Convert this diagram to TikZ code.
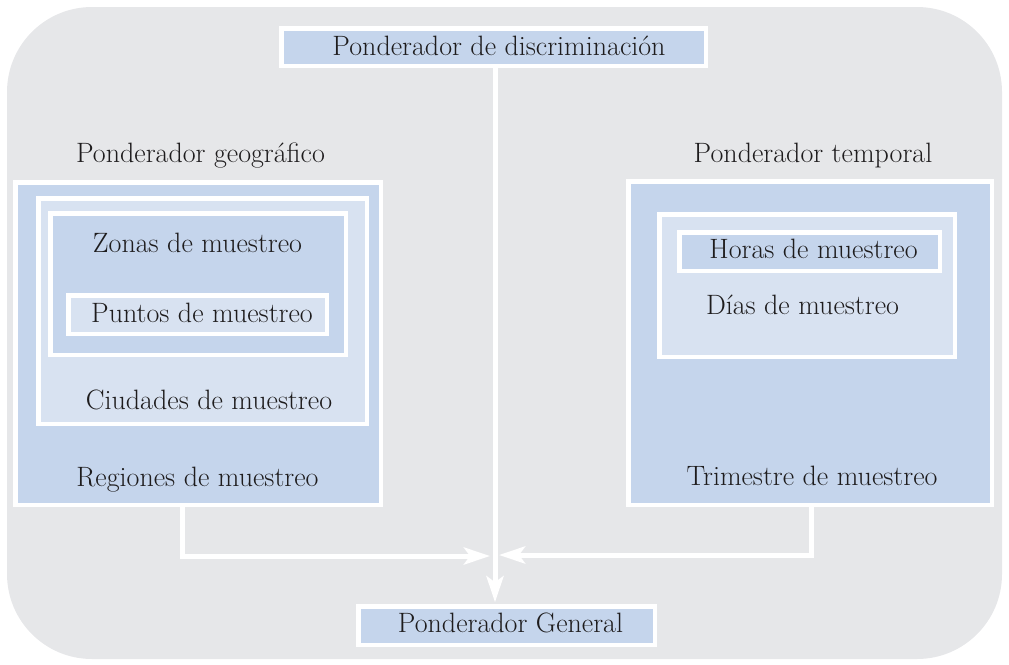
\documentclass[tikz,border=0pt]{standalone}
\usetikzlibrary{arrows.meta}
\definecolor{bggray}{RGB}{230,231,233}
\definecolor{bluedark}{RGB}{197,213,236}
\definecolor{bluelight}{RGB}{216,226,241}
\definecolor{txtcol}{RGB}{30,28,29}
\tikzset{
  boxdark/.style={draw=white, line width=4.5pt, fill=bluedark, inner sep=0pt, outer sep=0pt, anchor=center},
  boxlight/.style={draw=white, line width=4.5pt, fill=bluelight, inner sep=0pt, outer sep=0pt, anchor=center},
  lbl/.style={text=txtcol, inner sep=0pt, anchor=base, font=\fontsize{28}{33}\selectfont},
  arr/.style={draw=white, line width=5pt, -{Stealth[length=26pt,width=17pt,inset=6pt]}}
}
\begin{document}
\begin{tikzpicture}[x=1pt,y=-1pt]
\useasboundingbox (0,0) rectangle (1009,664);
\fill[bggray, rounded corners=85pt] (7,7) rectangle (1002,659);
% top box
\node[boxdark, minimum width=424.5pt, minimum height=37.5pt] (top) at (493.5,47) {};
\node[lbl] (toptxt) at (499,55) {Ponderador de discriminación};
% left group
\node[lbl] (geotitle) at (200.5,162) {Ponderador geográfico};
\node[boxdark, minimum width=365.5pt, minimum height=322.5pt] (geo) at (198,343.5) {};
\node[boxlight, minimum width=328.5pt, minimum height=225.5pt] (ciud) at (202.5,311) {};
\node[boxdark, minimum width=295.5pt, minimum height=141.5pt] (zonas) at (198,284) {};
\node[boxlight, minimum width=258.5pt, minimum height=38.5pt] (puntos) at (197.5,314.5) {};
\node[lbl] (zonastxt) at (197.5,252) {Zonas de muestreo};
\node[lbl] (puntostxt) at (202,322) {Puntos de muestreo};
\node[lbl] (ciudtxt) at (209,409) {Ciudades de muestreo};
\node[lbl] (regtxt) at (197.5,486) {Regiones de muestreo};
% right group
\node[lbl] (temptitle) at (813,162) {Ponderador temporal};
\node[boxdark, minimum width=363.5pt, minimum height=323.5pt] (temp) at (810,343) {};
\node[boxlight, minimum width=295.5pt, minimum height=142.5pt] (dias) at (807,285.5) {};
\node[boxdark, minimum width=260.5pt, minimum height=38.5pt] (horas) at (809.5,251.5) {};
\node[lbl] (horastxt) at (813.5,258) {Horas de muestreo};
\node[lbl] (diastxt) at (802.5,314) {Días de muestreo};
\node[lbl] (trimtxt) at (812,485) {Trimestre de muestreo};
% general box
\node[boxdark, minimum width=296.5pt, minimum height=38.5pt] (gen) at (506.5,625.5) {};
\node[lbl] (gentxt) at (510.5,632) {Ponderador General};
% connectors
\coordinate (vx) at (495,556);
\coordinate (ltip) at (490,556);
\coordinate (rtip) at (499,555);
\coordinate (lstart) at (182,505);
\coordinate (rstart) at (811,505);
\draw[arr, shorten >=4pt] (top.south -| vx) -- (gen.north -| vx);
\draw[arr] (lstart) |- (ltip);
\draw[arr] (rstart) |- (rtip);
\end{tikzpicture}
\end{document}
